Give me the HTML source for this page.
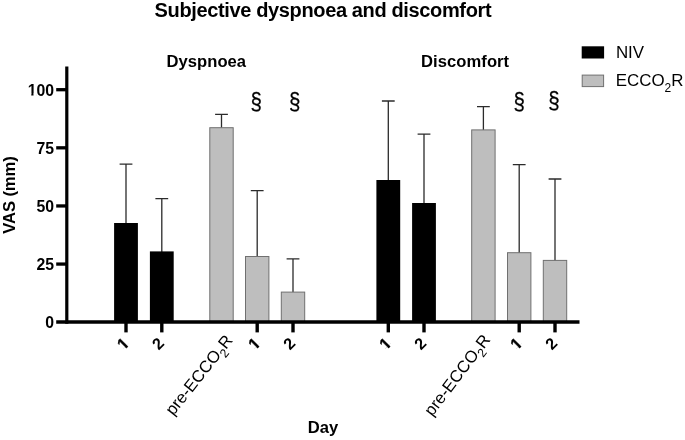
<!DOCTYPE html>
<html><head><meta charset="utf-8"><title>Subjective dyspnoea and discomfort</title>
<style>
html,body{margin:0;padding:0;background:#fff;}
svg{display:block;font-family:"Liberation Sans",sans-serif;}
.b{font-weight:bold;}
</style></head><body>
<svg width="685" height="440" viewBox="0 0 685 440">
<defs><clipPath id="nofoot"><path d="M-14 -16 H2 V-2.2 H-3.0 V1 H-5.6 V-2.2 H-14 Z"/></clipPath></defs>
<rect width="685" height="440" fill="#fff"/>
<path d="M126 224.0 V164.2 M119.6 164.2 H132.4" stroke="#2b2b2b" stroke-width="1.3" fill="none"/>
<path d="M161.8 252.4 V198.7 M155.4 198.7 H168.2" stroke="#2b2b2b" stroke-width="1.3" fill="none"/>
<path d="M221.5 128.2 V114.3 M215.1 114.3 H227.9" stroke="#2b2b2b" stroke-width="1.3" fill="none"/>
<path d="M257.2 257.0 V190.7 M250.8 190.7 H263.6" stroke="#2b2b2b" stroke-width="1.3" fill="none"/>
<path d="M293 292.6 V258.9 M286.6 258.9 H299.4" stroke="#2b2b2b" stroke-width="1.3" fill="none"/>
<path d="M388.3 181.0 V101 M381.9 101 H394.7" stroke="#2b2b2b" stroke-width="1.3" fill="none"/>
<path d="M424 204.0 V134.1 M417.6 134.1 H430.4" stroke="#2b2b2b" stroke-width="1.3" fill="none"/>
<path d="M483.4 130.4 V106.7 M477.0 106.7 H489.8" stroke="#2b2b2b" stroke-width="1.3" fill="none"/>
<path d="M519.2 253.2 V164.7 M512.8 164.7 H525.6" stroke="#2b2b2b" stroke-width="1.3" fill="none"/>
<path d="M555 260.9 V179 M548.6 179 H561.4" stroke="#2b2b2b" stroke-width="1.3" fill="none"/>
<rect x="114.10" y="223.00" width="23.8" height="99.00" fill="#000"/>
<rect x="149.90" y="251.40" width="23.8" height="70.60" fill="#000"/>
<rect x="209.80" y="127.70" width="23.4" height="194.80" fill="#bebebe" stroke="#707070" stroke-width="1"/>
<rect x="245.50" y="256.50" width="23.4" height="66.00" fill="#bebebe" stroke="#707070" stroke-width="1"/>
<rect x="281.30" y="292.10" width="23.4" height="30.40" fill="#bebebe" stroke="#707070" stroke-width="1"/>
<rect x="376.40" y="180.00" width="23.8" height="142.00" fill="#000"/>
<rect x="412.10" y="203.00" width="23.8" height="119.00" fill="#000"/>
<rect x="471.70" y="129.90" width="23.4" height="192.60" fill="#bebebe" stroke="#707070" stroke-width="1"/>
<rect x="507.50" y="252.70" width="23.4" height="69.80" fill="#bebebe" stroke="#707070" stroke-width="1"/>
<rect x="543.30" y="260.40" width="23.4" height="62.10" fill="#bebebe" stroke="#707070" stroke-width="1"/>
<path d="M66.8 66.5 V323.8" stroke="#000" stroke-width="3.2" fill="none"/>
<path d="M56.2 322 H579.5" stroke="#000" stroke-width="3.6" fill="none"/>
<path d="M56.2 264.07 H66" stroke="#000" stroke-width="3.3" fill="none"/>
<path d="M56.2 205.95 H66" stroke="#000" stroke-width="3.3" fill="none"/>
<path d="M56.2 147.82 H66" stroke="#000" stroke-width="3.3" fill="none"/>
<path d="M56.2 89.70 H66" stroke="#000" stroke-width="3.3" fill="none"/>
<path d="M126 322 V332.4" stroke="#000" stroke-width="3.4" fill="none"/>
<path d="M161.8 322 V332.4" stroke="#000" stroke-width="3.4" fill="none"/>
<path d="M257.2 322 V332.4" stroke="#000" stroke-width="3.4" fill="none"/>
<path d="M293 322 V332.4" stroke="#000" stroke-width="3.4" fill="none"/>
<path d="M388.3 322 V332.4" stroke="#000" stroke-width="3.4" fill="none"/>
<path d="M424 322 V332.4" stroke="#000" stroke-width="3.4" fill="none"/>
<path d="M519.2 322 V332.4" stroke="#000" stroke-width="3.4" fill="none"/>
<path d="M555 322 V332.4" stroke="#000" stroke-width="3.4" fill="none"/>
<text class="b" x="54.0" y="328.35" font-size="15.8" text-anchor="end">0</text>
<text class="b" x="54.0" y="270.23" font-size="15.8" text-anchor="end">25</text>
<text class="b" x="54.0" y="212.10" font-size="15.8" text-anchor="end">50</text>
<text class="b" x="54.0" y="153.97" font-size="15.8" text-anchor="end">75</text>
<clipPath id="nofoot100"><rect x="24.65" y="79.85" width="40" height="13.71"/><rect x="31.25" y="92.56" width="2.28" height="3"/><rect x="36.43" y="92.56" width="30" height="5"/></clipPath>
<text class="b" x="54.0" y="95.85" font-size="15.8" text-anchor="end" clip-path="url(#nofoot100)">100</text>
<text class="b" transform="translate(14.7 195) rotate(-90)" font-size="16.6" text-anchor="middle" textLength="77.4">VAS (mm)</text>
<text class="b" x="154.6" y="16.8" font-size="20" textLength="337">Subjective dyspnoea and discomfort</text>
<text class="b" x="166.5" y="66.9" font-size="16.6" textLength="79.6">Dyspnoea</text>
<text class="b" x="421.1" y="66.9" font-size="16.6" textLength="88">Discomfort</text>
<text class="b" x="323.1" y="433.1" font-size="16.6" text-anchor="middle">Day</text>
<text transform="translate(256.3 109.8) scale(1 1.125)" font-size="20.5" text-anchor="middle" stroke="#000" stroke-width="0.25">§</text>
<text transform="translate(294.6 109.8) scale(1 1.125)" font-size="20.5" text-anchor="middle" stroke="#000" stroke-width="0.25">§</text>
<text transform="translate(519.2 109.6) scale(1 1.125)" font-size="20.5" text-anchor="middle" stroke="#000" stroke-width="0.25">§</text>
<text transform="translate(553.9 109.0) scale(1 1.125)" font-size="20.5" text-anchor="middle" stroke="#000" stroke-width="0.25">§</text>
<g transform="translate(130.2 344.3) rotate(-45)"><text class="b" font-size="16.2" text-anchor="end" clip-path="url(#nofoot)" stroke="#000" stroke-width="0.35">1</text></g>
<g transform="translate(165.20000000000002 344.3) rotate(-45)"><text class="b" font-size="16.2" text-anchor="end">2</text></g>
<text transform="translate(233.5 340.6) rotate(-51.5)" font-size="16.7" text-anchor="end">pre-ECCO<tspan font-size="12.3" dy="4.8">2</tspan><tspan dy="-4.8">R</tspan></text>
<g transform="translate(261.4 344.3) rotate(-45)"><text class="b" font-size="16.2" text-anchor="end" clip-path="url(#nofoot)" stroke="#000" stroke-width="0.35">1</text></g>
<g transform="translate(296.4 344.3) rotate(-45)"><text class="b" font-size="16.2" text-anchor="end">2</text></g>
<g transform="translate(392.5 344.3) rotate(-45)"><text class="b" font-size="16.2" text-anchor="end" clip-path="url(#nofoot)" stroke="#000" stroke-width="0.35">1</text></g>
<g transform="translate(427.4 344.3) rotate(-45)"><text class="b" font-size="16.2" text-anchor="end">2</text></g>
<text transform="translate(491.0 340.0) rotate(-52.7)" font-size="16.7" text-anchor="end">pre-ECCO<tspan font-size="12.3" dy="4.8">2</tspan><tspan dy="-4.8">R</tspan></text>
<g transform="translate(523.4000000000001 344.3) rotate(-45)"><text class="b" font-size="16.2" text-anchor="end" clip-path="url(#nofoot)" stroke="#000" stroke-width="0.35">1</text></g>
<g transform="translate(558.4 344.3) rotate(-45)"><text class="b" font-size="16.2" text-anchor="end">2</text></g>
<rect x="581.7" y="46.3" width="22.4" height="12.2" fill="#000"/>
<rect x="582.2" y="75.1" width="21.4" height="11.5" fill="#bebebe" stroke="#707070" stroke-width="1"/>
<text x="615.9" y="58.2" font-size="16.9">NIV</text>
<text x="615.8" y="86.4" font-size="16.9">ECCO<tspan font-size="12" dy="5.7">2</tspan><tspan dy="-5.7">R</tspan></text>
</svg>
</body></html>
